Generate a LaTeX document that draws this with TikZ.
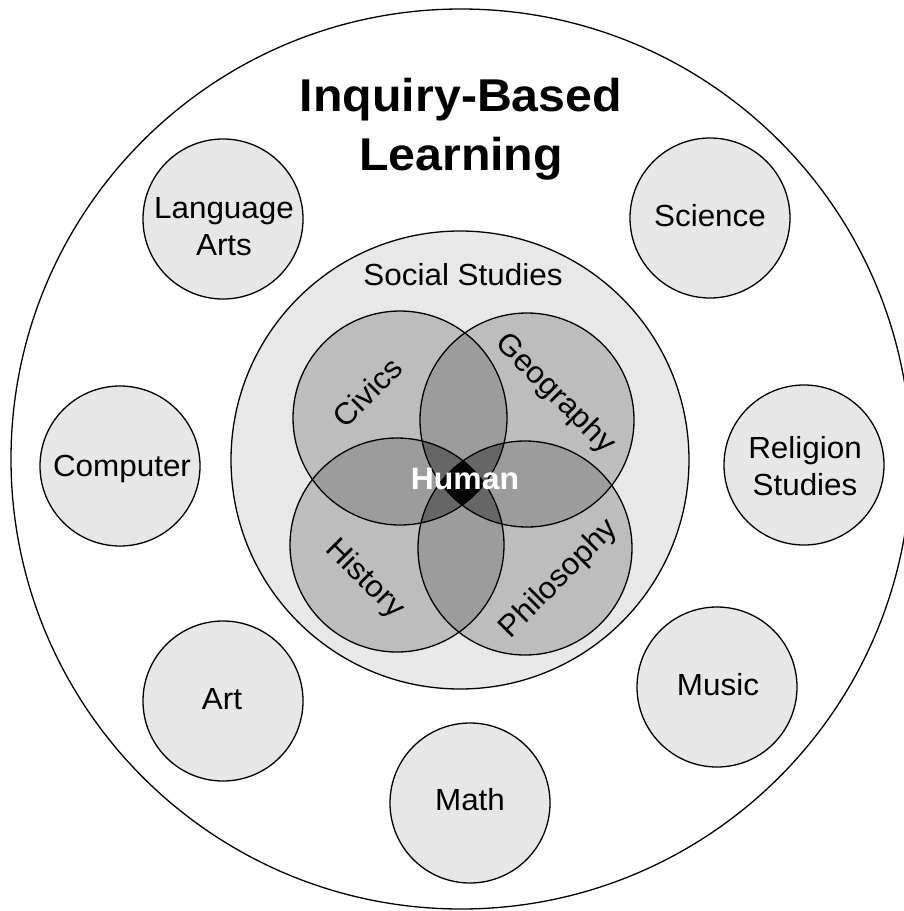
\documentclass[tikz,border=0pt]{standalone}
\usepackage{fontspec}
\setmainfont{Liberation Sans}[FakeStretch=1.03]
\newfontfamily\titlefont{Liberation Sans}[FakeStretch=1.05]
\definecolor{smallfill}{gray}{0.905}
\definecolor{ssfill}{gray}{0.91}
\definecolor{vone}{gray}{0.74}
\definecolor{vtwo}{gray}{0.61}
\definecolor{vthree}{gray}{0.40}
\definecolor{vfour}{gray}{0.02}
\def\vennrad{107pt}
\begin{document}
\begin{tikzpicture}[x=1pt,y=-1pt, line width=1.3pt,
  subj/.style={circle, draw, fill=smallfill, minimum size=160pt, inner sep=0pt},
  lbl/.style={font=\fontsize{30.5}{37}\selectfont, inner sep=0pt, text height=21.8pt, text depth=0pt},
  lbltwo/.style={font=\fontsize{30.5}{36.5}\selectfont, inner sep=0pt, align=center, anchor=north},
  venn/.style={circle, draw, minimum size=214pt, inner sep=0pt}]
\useasboundingbox (0,0) rectangle (904,911);
\clip (0,0) rectangle (904,911);
\fill[white] (0,0) rectangle (904,911);

% outer circle
\node[circle, draw, minimum size=900pt, inner sep=0pt] (outer) at (461,459) {};

% title
\node[inner sep=0pt, align=center, anchor=north,
      font=\titlefont\bfseries\fontsize{46}{59}\selectfont] (title) at (461,77.5)
      {Inquiry-Based\\Learning};

% subject circles
\node[subj] (langc) at (223,219) {};
\node[subj] (scic)  at (710,218) {};
\node[subj] (compc) at (120,466) {};
\node[subj] (relc)  at (804,465) {};
\node[subj] (artc)  at (223,701) {};
\node[subj] (musc)  at (717,687) {};
\node[subj] (mathc) at (470,803) {};

\node[lbltwo] (langl) at (224,197) {Language\\Arts};
\node[lbl] (scil)  at (710,216) {Science};
\node[lbl] (compl) at (122,466) {Computer};
\node[lbltwo] (rell) at (805,436) {Religion\\Studies};
\node[lbl] (artl)  at (222,699) {Art};
\node[lbl] (musl)  at (718,685) {Music};
\node[lbl] (mathl) at (470,800) {Math};

% social studies
\node[circle, draw, fill=ssfill, minimum size=458pt, inner sep=0pt] (social) at (460,460) {};
\node[lbl] (sociall) at (463,275) {Social Studies};

% venn centres
\coordinate (civ) at (400,418);
\coordinate (geo) at (527,420);
\coordinate (his) at (397,545);
\coordinate (phi) at (525,548);

% single fills
\foreach \c in {civ,geo,his,phi}
  \fill[vone] (\c) circle[radius=\vennrad];
% pair fills
\foreach \a/\b in {civ/geo,civ/his,civ/phi,geo/his,geo/phi,his/phi}{
  \begin{scope}
    \clip (\a) circle[radius=\vennrad];
    \fill[vtwo] (\b) circle[radius=\vennrad];
  \end{scope}
}
% triple fills
\foreach \a/\b/\c in {civ/geo/his,civ/geo/phi,civ/his/phi,geo/his/phi}{
  \begin{scope}
    \clip (\a) circle[radius=\vennrad];
    \clip (\b) circle[radius=\vennrad];
    \fill[vthree] (\c) circle[radius=\vennrad];
  \end{scope}
}
% quadruple fill
\begin{scope}
  \clip (civ) circle[radius=\vennrad];
  \clip (geo) circle[radius=\vennrad];
  \clip (his) circle[radius=\vennrad];
  \fill[vfour] (phi) circle[radius=\vennrad];
\end{scope}

% venn outlines
\node[venn] (civics) at (civ) {};
\node[venn] (geography) at (geo) {};
\node[venn] (history) at (his) {};
\node[venn] (philosophy) at (phi) {};

\node[lbl, rotate=45]  (civicsl) at (367,392) {Civics};
\node[lbl, rotate=-45] (geol)    at (557,392) {Geography};
\node[lbl, rotate=-45] (hisl)    at (367,577) {History};
\node[lbl, rotate=45]  (phil)    at (557,577) {Philosophy};
\node[lbl, text=white, font=\fontsize{31}{37}\selectfont\bfseries] (human) at (465,479) {Human};
\end{tikzpicture}
\end{document}
